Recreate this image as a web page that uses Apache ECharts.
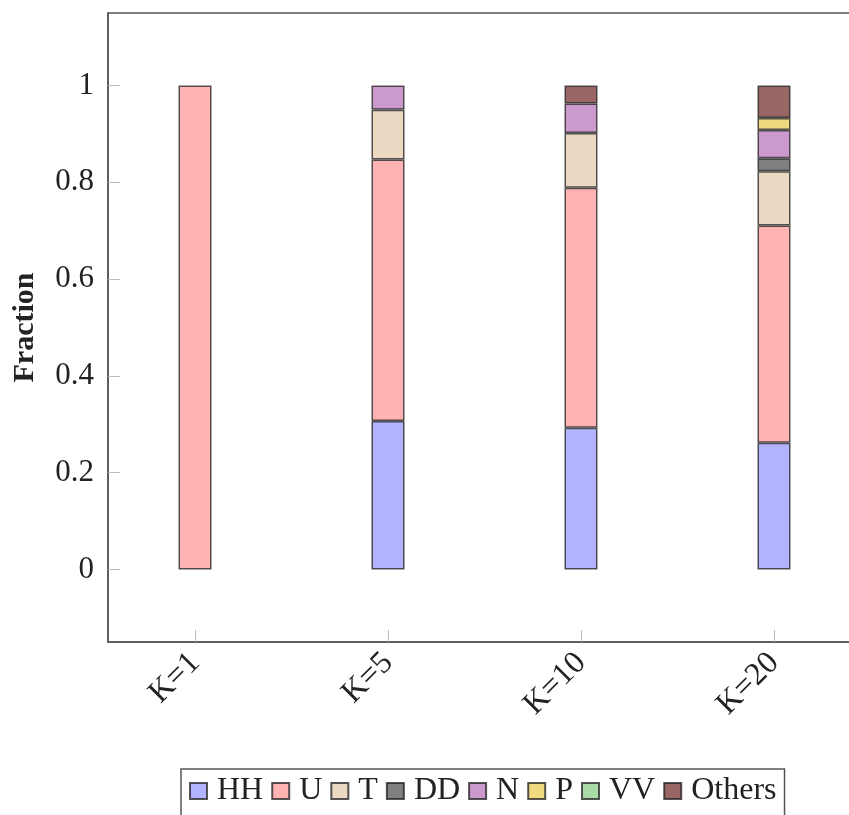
<!DOCTYPE html>
<html>
<head>
<meta charset="utf-8">
<script src="https://cdn.jsdelivr.net/npm/echarts@6/dist/echarts.min.js"></script>
<style>html,body{margin:0;padding:0;background:#fff;overflow:hidden;}#c{width:880px;height:815px;}</style>
</head>
<body>
<div id="c"></div>
<script>
const categories = ['K=1', 'K=5', 'K=10', 'K=20'];
const HH = [0, 0.307, 0.293, 0.262];
const U = [1.0, 0.540, 0.496, 0.449];
const T = [0, 0.103, 0.113, 0.112];
const DD = [0, 0, 0, 0.027];
const N = [0, 0.050, 0.061, 0.058];
const P = [0, 0, 0, 0.025];
const VV = [0, 0, 0, 0];
const Others = [0, 0, 0.037, 0.067];
const yTicks = [0, 0.2, 0.4, 0.6, 0.8, 1];

const seriesDefs = [
  ['HH', HH, '#b3b3ff'],
  ['U', U, '#ffb3b3'],
  ['T', T, '#ebd9c4'],
  ['DD', DD, '#808080'],
  ['N', N, '#cc99cc'],
  ['P', P, '#f0da80'],
  ['VV', VV, '#aadcaa'],
  ['Others', Others, '#996666']
];

const font = 'Liberation Serif';
const chart = echarts.init(document.getElementById('c'), null, {renderer: 'canvas'});
chart.setOption({
  animation: false,
  backgroundColor: '#fff',
  grid: [
    {left: 98.5, width: 772, top: 13, bottom: 173, show: false},
    {left: 108, width: 753, top: 13, bottom: 173, show: true, borderColor: '#555', borderWidth: 1.5, backgroundColor: 'transparent'}
  ],
  legend: {
    left: 181, top: 769,
    data: seriesDefs.map(d => d[0]),
    icon: 'rect',
    itemWidth: 17, itemHeight: 16, itemGap: 8,
    borderColor: '#555', borderWidth: 1.5, padding: [6, 8, 10, 8],
    textStyle: {fontFamily: font, fontSize: 32, color: '#222', padding: [0, 0, 0, 5]}
  },
  xAxis: [
    {
      type: 'category', gridIndex: 0, data: categories, boundaryGap: true,
      axisLine: {show: false, onZero: false},
      splitLine: {show: false},
      axisTick: {show: true, inside: true, alignWithLabel: true, length: 12, lineStyle: {color: '#bbb', width: 1}},
      axisLabel: {rotate: 45, margin: 16, fontFamily: font, fontSize: 32, color: '#222', interval: 0}
    },
    {
      type: 'value', gridIndex: 1, min: 0, max: 1,
      axisLine: {show: true, onZero: false, lineStyle: {color: '#555', width: 1.5}},
      axisTick: {show: false}, axisLabel: {show: false}, splitLine: {show: false}
    }
  ],
  yAxis: [
    {type: 'value', gridIndex: 0, min: -0.15, max: 1.15, show: false, splitLine: {show: false}},
    {
      type: 'value', gridIndex: 1, min: -0.15, max: 1.15,
      name: 'Fraction', nameLocation: 'middle', nameGap: 68,
      nameTextStyle: {fontFamily: font, fontSize: 30, fontWeight: 'bold', color: '#222'},
      axisLine: {show: true, onZero: false, lineStyle: {color: '#555', width: 1.5}},
      splitLine: {show: false},
      axisTick: {show: true, inside: true, length: 12, customValues: yTicks, lineStyle: {color: '#bbb', width: 1}},
      axisLabel: {customValues: yTicks, margin: 14, fontFamily: font, fontSize: 31, color: '#222',
        formatter: v => String(+(+v).toFixed(1))}
    }
  ],
  series: seriesDefs.map(([name, vals, color]) => ({
    name, type: 'bar', stack: 'all', barWidth: 33, xAxisIndex: 0, yAxisIndex: 0,
    itemStyle: {color, borderColor: 'rgba(30,30,30,0.75)', borderWidth: 1.5},
    data: vals.map(v => v === 0 ? '-' : v)
  }))
});
</script>
</body>
</html>
